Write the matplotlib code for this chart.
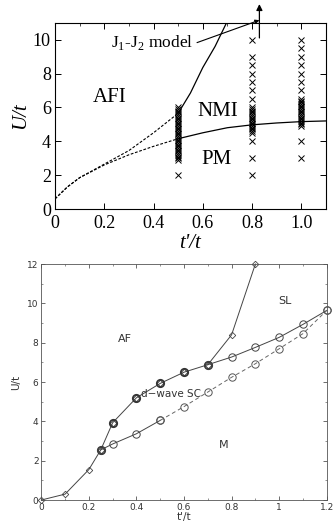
import matplotlib
matplotlib.use("Agg")
import matplotlib.pyplot as plt
from matplotlib.ticker import MultipleLocator, FormatStrFormatter

# ---- top panel data (t'/t, U/t) ----
afi_nmi_x = [0.5, 0.55, 0.6, 0.65, 0.7]
afi_nmi_y = [5.65, 6.85, 8.35, 9.6, 11.1]
afi_dash_x = [0.0, 0.05, 0.1, 0.2, 0.3, 0.4, 0.5]
afi_dash_y = [0.6, 1.3, 1.85, 2.65, 3.45, 4.5, 5.65]
pm_dash_x = [0.0, 0.05, 0.1, 0.2, 0.3, 0.4, 0.5]
pm_dash_y = [0.6, 1.3, 1.85, 2.6, 3.2, 3.7, 4.15]
pm_x = [0.5, 0.6, 0.7, 0.8, 0.9, 1.0, 1.1]
pm_y = [4.15, 4.5, 4.8, 4.97, 5.08, 5.16, 5.2]

u_05 = [2.0, 2.9, 3.0, 3.1, 3.2, 3.3, 3.4, 3.5, 3.6, 3.7, 3.8, 3.9, 4.0, 4.1,
        4.2, 4.3, 4.4, 4.5, 4.6, 4.7, 4.8, 4.9, 5.0, 5.1, 5.2, 5.3, 5.4, 5.5,
        5.6, 5.7, 5.8, 5.9, 6.0]
u_08 = [2.0, 3.0, 4.0, 4.5, 4.6, 4.7, 4.8, 4.9, 5.0, 5.1, 5.2, 5.3, 5.4, 5.5,
        5.6, 5.7, 5.8, 5.9, 6.0, 6.5, 7.0, 7.5, 8.0, 8.5, 9.0, 10.0]
u_10 = [3.0, 4.0, 4.9, 5.0, 5.1, 5.2, 5.3, 5.4, 5.5, 5.6, 5.7, 5.8, 5.9, 6.0,
        6.1, 6.2, 6.3, 6.4, 6.5, 7.0, 7.5, 8.0, 8.5, 9.0, 9.5, 10.0]

# ---- bottom panel data ----
af_x = [0.0, 0.1, 0.2, 0.25, 0.3, 0.4, 0.5, 0.6, 0.7, 0.8, 0.9]
af_y = [0.0, 0.3, 1.55, 2.55, 3.93, 5.2, 5.93, 6.5, 6.88, 8.4, 12.0]
dsc_x = [0.25, 0.3, 0.4, 0.5, 0.6, 0.7]
dsc_y = [2.55, 3.93, 5.2, 5.93, 6.5, 6.88]
sl_x = [0.7, 0.8, 0.9, 1.0, 1.1, 1.2]
sl_y = [6.88, 7.27, 7.76, 8.27, 8.93, 9.64]
m_x = [0.25, 0.3, 0.4, 0.5]
m_y = [2.55, 2.85, 3.37, 4.05]
m_dash_x = [0.5, 0.6, 0.7, 0.8, 0.9, 1.0, 1.1, 1.2]
m_dash_y = [4.05, 4.75, 5.49, 6.24, 6.93, 7.69, 8.46, 9.64]

fig = plt.figure(figsize=(3.34, 5.27), dpi=100)

# ================= top panel =================
serif = "Liberation Serif"
ax1 = fig.add_axes([0.1647, 0.6034, 0.811, 0.3535])
ax1.plot(afi_nmi_x, afi_nmi_y, color="k", lw=0.9)
ax1.plot(afi_dash_x, afi_dash_y, color="k", lw=0.8, ls=(0, (2.5, 1.5)))
ax1.plot(pm_dash_x, pm_dash_y, color="k", lw=0.8, ls=(0, (2.5, 1.5)))
ax1.plot(pm_x, pm_y, color="k", lw=0.9)
for xv, us in [(0.5, u_05), (0.8, u_08), (1.0, u_10)]:
    ax1.plot([xv] * len(us), us, ls="none", marker="x", color="k",
             ms=4, mew=0.7)

ax1.set_xlim(0, 1.1)
ax1.set_ylim(0, 11)
ax1.xaxis.set_minor_locator(MultipleLocator(0.1))
ax1.yaxis.set_major_locator(MultipleLocator(2))
ax1.set_xticks([0, 0.2, 0.4, 0.6, 0.8, 1.0])
ax1.set_xticklabels(["0", "0.2", "0.4", "0.6", "0.8", "1.0"])
ax1.tick_params(direction="in", top=True, right=True, labelsize=13,
                length=4, width=0.7, pad=3)
ax1.tick_params(axis="x", pad=4)
ax1.tick_params(which="minor", direction="in", top=True, bottom=False,
                length=2, width=0.5)
for lab in ax1.get_xticklabels() + ax1.get_yticklabels():
    lab.set_family(serif)
ax1.set_xlabel("t'/t", family=serif, style="italic", fontsize=15, labelpad=2)
ax1.set_ylabel("U/t", family=serif, style="italic", fontsize=15, labelpad=2)

ax1.text(0.22, 6.6, "AFI", family=serif, fontsize=15, ha="center", va="center")
ax1.text(0.66, 5.75, "NMI", family=serif, fontsize=15, ha="center", va="center")
ax1.text(0.656, 2.9, "PM", family=serif, fontsize=15, ha="center", va="center")
ax1.annotate("J$_\\mathregular{1}$-J$_\\mathregular{2}$ model",
             xy=(0.83, 11.15), xytext=(0.226, 9.85),
             family=serif, fontsize=12.5, va="center", ha="left",
             arrowprops=dict(arrowstyle="-|>", color="k", lw=0.8,
                             mutation_scale=6, shrinkA=1, shrinkB=0,
                             relpos=(1.0, 0.4)),
             annotation_clip=False)
ax1.annotate("", xy=(0.83, 12.1), xytext=(0.83, 10.1),
             arrowprops=dict(arrowstyle="-|>", color="k", lw=0.9,
                             mutation_scale=9, shrinkA=0, shrinkB=0),
             annotation_clip=False)

# ================= bottom panel =================
gray = "#444444"
ax2 = fig.add_axes([0.1237, 0.0512, 0.8545, 0.4478])
ax2.plot(af_x, af_y, color=gray, lw=0.7, marker="D", ms=3.3,
         mfc="none", mec=gray, mew=0.6, clip_on=False)
ax2.plot(dsc_x, dsc_y, ls="none", marker="o", ms=5.3, mfc="none",
         mec="#333333", mew=1.3, clip_on=False)
ax2.plot(sl_x, sl_y, color=gray, lw=0.7, marker="o", ms=5.3, mfc="none",
         mec=gray, mew=0.7, clip_on=False)
ax2.plot(m_x, m_y, color=gray, lw=0.7, marker="o", ms=5.3, mfc="none",
         mec=gray, mew=0.7, clip_on=False)
ax2.plot(m_dash_x, m_dash_y, color="#666666", lw=0.7, ls=(0, (4, 3)),
         marker="o", ms=5.3, mfc="none", mec="#555555", mew=0.7,
         clip_on=False)

ax2.set_xlim(0, 1.2)
ax2.set_ylim(0, 12)
ax2.xaxis.set_major_locator(MultipleLocator(0.2))
ax2.xaxis.set_minor_locator(MultipleLocator(0.1))
ax2.yaxis.set_major_locator(MultipleLocator(2))
ax2.yaxis.set_minor_locator(MultipleLocator(1))
ax2.xaxis.set_major_formatter(FormatStrFormatter("%g"))
ax2.tick_params(direction="in", top=True, right=True, labelsize=6.5,
                length=3, width=0.5, colors="#333333", pad=2)
ax2.tick_params(which="minor", direction="in", top=True, right=True,
                length=1.5, width=0.5, colors="#666666")
for sp in ax2.spines.values():
    sp.set_linewidth(0.6)
    sp.set_color("#555555")
ax2.set_xlabel("t'/t", fontsize=7.5, labelpad=0, color="#333333")
ax2.set_ylabel("U/t", fontsize=7.5, labelpad=4, color="#333333")

ax2.text(0.35, 8.2, "AF", fontsize=8, ha="center", va="center", color="#333333")
ax2.text(1.025, 10.1, "SL", fontsize=8, ha="center", va="center", color="#333333")
ax2.text(0.42, 5.37, "d\u2212wave SC", fontsize=7.5, ha="left", va="center",
         color="#333333")
ax2.text(0.765, 2.8, "M", fontsize=8, ha="center", va="center", color="#333333")

fig.savefig("out.png", dpi=100)
